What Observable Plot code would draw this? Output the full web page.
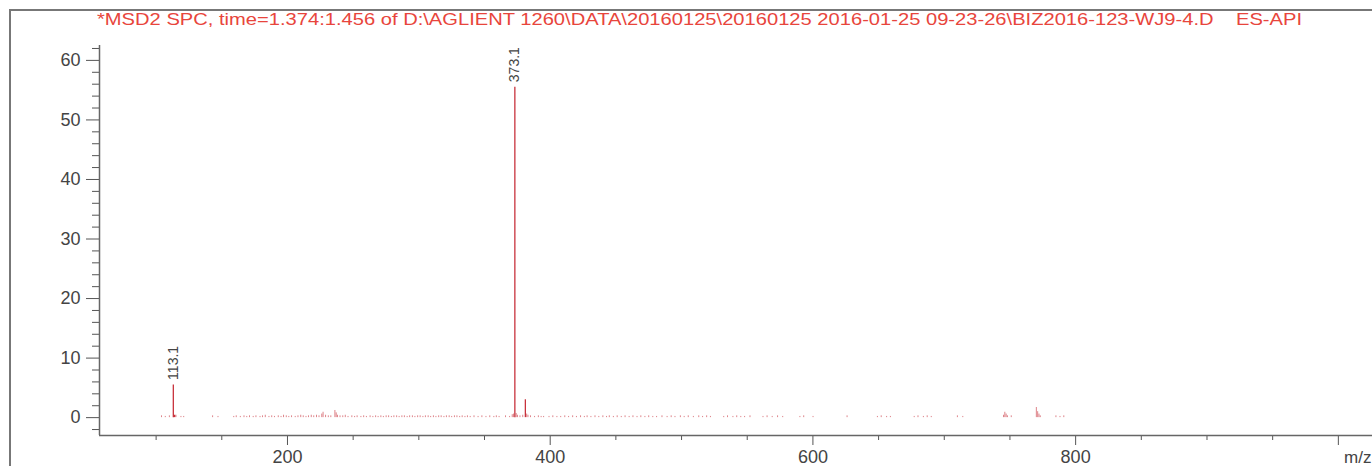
<!DOCTYPE html>
<html><head><meta charset="utf-8">
<script src="https://cdn.jsdelivr.net/npm/d3@7"></script>
<script src="https://cdn.jsdelivr.net/npm/@observablehq/plot@0.6"></script>
<style>
html,body{margin:0;padding:0;background:#fff;width:1372px;height:466px;overflow:hidden;font-family:"Liberation Sans",Arial,sans-serif;}
#frame{position:absolute;left:9px;top:9px;width:1400px;height:500px;border-top:2px solid #777;border-left:2px solid #777;}
#title{position:absolute;left:97px;top:11px;font-size:17px;line-height:17px;color:#e8453c;white-space:pre;transform-origin:0 0;}
#chart{position:absolute;left:0;top:30px;}
#xlabel{position:absolute;left:1344px;top:449px;font-size:17px;line-height:17px;color:#444;white-space:pre;}
</style>
</head><body>
<div id="frame"></div>
<div id="title">*MSD2 SPC, time=1.374:1.456 of D:\AGLIENT 1260\DATA\20160125\20160125 2016-01-25 09-23-26\BIZ2016-123-WJ9-4.D    ES-API</div>
<div id="chart"></div>
<div id="xlabel">m/z</div>
<script>
// Labelled / major peaks
const peakMz = [113.1, 114.1, 373.1, 381.1];
const peakIntensity = [5.5, 0.4, 55.5, 3.0];
const labelMz = [113.1, 373.1];
const labelIntensity = [5.5, 55.5];
const labelText = ["113.1", "373.1"];

// Small peaks and baseline noise
const noiseMz = [104.1,107.0,110.1,115.1,118.9,121.0,143.0,147.1,
159.1,161.0,164.1,166.9,169.0,171.1,173.9,176.0,179.1,181.0,183.1,185.9,188.0,190.1,193.0,195.1,197.0,199.1,201.0,203.1,205.9,208.0,210.1,212.0,214.1,216.0,218.1,220.0,222.1,224.0,
226.1,227.1,229.0,231.1,233.0,236.1,237.1,238.1,240.0,242.1,244.0,246.1,249.0,251.1,253.0,255.9,258.0,260.1,262.9,265.0,267.1,269.0,271.1,273.0,275.1,277.0,279.1,281.0,283.1,285.0,287.1,289.0,291.1,293.0,295.1,297.0,299.1,301.0,303.1,305.0,307.1,309.0,311.1,313.0,315.1,317.0,319.1,321.0,323.1,325.0,327.1,329.0,331.1,333.0,335.1,337.0,339.1,342.0,345.1,348.0,351.1,354.0,357.1,359.0,361.1,
366.0,369.1,371.1,372.1,374.1,375.1,377.0,379.1,382.1,383.1,385.0,388.1,391.0,393.1,
395.0,399.1,402.0,405.1,408.0,411.1,414.0,417.1,420.0,423.1,426.0,428.1,431.0,434.1,437.0,440.1,442.9,445.0,448.1,451.0,454.1,457.0,460.1,463.0,466.1,469.0,472.1,475.0,478.1,481.0,485.1,489.0,492.1,495.0,499.1,502.0,505.1,509.0,513.1,516.0,519.1,522.0,
532.1,535.0,539.1,542.0,545.1,548.0,552.1,562.0,565.1,569.0,573.1,577.0,590.1,593.0,600.1,626.0,649.1,652.0,656.1,659.0,677.1,680.0,684.1,687.0,690.1,710.0,714.1,
745.1,746.1,747.1,748.1,751.0,770.1,771.1,772.1,773.1,785.0,788.1,791.0];
const noiseIntensity = [0.3,0.2,0.3,0.4,0.2,0.2,0.3,0.2,
0.2,0.3,0.2,0.3,0.2,0.3,0.2,0.3,0.2,0.3,0.4,0.2,0.3,0.2,0.3,0.2,0.4,0.3,0.2,0.3,0.2,0.3,0.4,0.3,0.2,0.3,0.4,0.3,0.4,0.3,
0.6,0.9,0.4,0.3,0.3,1.2,0.8,0.4,0.3,0.3,0.4,0.2,0.3,0.2,0.3,0.2,0.3,0.2,0.3,0.2,0.3,0.2,0.3,0.2,0.3,0.3,0.2,0.3,0.3,0.2,0.3,0.3,0.2,0.3,0.3,0.2,0.3,0.3,0.2,0.3,0.3,0.2,0.3,0.2,0.3,0.3,0.2,0.3,0.3,0.2,0.3,0.3,0.2,0.3,0.2,0.3,0.2,0.3,0.2,0.3,0.2,0.3,0.2,0.3,0.2,
0.3,0.2,0.5,0.6,0.7,0.4,0.3,0.4,0.6,0.4,0.3,0.2,0.3,0.2,
0.2,0.2,0.3,0.2,0.2,0.3,0.2,0.3,0.2,0.3,0.2,0.3,0.2,0.3,0.2,0.3,0.2,0.3,0.2,0.3,0.2,0.3,0.2,0.3,0.2,0.3,0.2,0.3,0.2,0.2,0.3,0.2,0.3,0.2,0.3,0.2,0.3,0.2,0.3,0.2,0.3,0.2,
0.2,0.3,0.2,0.3,0.2,0.2,0.3,0.2,0.3,0.2,0.3,0.2,0.2,0.3,0.2,0.3,0.2,0.3,0.2,0.2,0.2,0.3,0.2,0.3,0.2,0.3,0.2,
0.4,0.9,0.6,0.3,0.3,1.7,1.0,0.6,0.3,0.3,0.2,0.3];

// Axis ticks
const yMajorTicks = [0, 10, 20, 30, 40, 50, 60];
const yMinorTicks = [-2, 2, 4, 6, 8, 12, 14, 16, 18, 22, 24, 26, 28, 32, 34, 36, 38, 42, 44, 46, 48, 52, 54, 56, 58, 62];
const xMajorTicks = [200, 400, 600, 800, 1000];
const xTickLabels = ["200", "400", "600", "800", ""];
const xMinorTicks = [100, 150, 250, 300, 350, 450, 500, 550, 650, 700, 750, 850, 900, 950];

const xDomain = [56.9, 1026];
const yDomain = [-3.0, 62.5];

const peaks = peakMz.map((mz, i) => ({mz, intensity: peakIntensity[i]}));
const noise = noiseMz.map((mz, i) => ({mz, intensity: noiseIntensity[i]}));
const labels = labelMz.map((mz, i) => ({mz, intensity: labelIntensity[i], text: labelText[i]}));

const chart = Plot.plot({
  width: 1372, height: 436,
  marginLeft: 99, marginRight: 0, marginTop: 15, marginBottom: 31,
  x: {domain: xDomain, label: null},
  y: {domain: yDomain, label: null},
  style: {fontFamily: "'Liberation Sans', Arial, sans-serif", fontSize: "18px", color: "#444", background: "transparent", overflow: "visible"},
  marks: [
    Plot.axisY(yMinorTicks, {tickSize: 7, tickFormat: () => "", stroke: "#555", label: null}),
    Plot.axisY(yMajorTicks, {tickSize: 13, tickPadding: 6, stroke: "#555", fill: "#444", fontSize: 18, label: null}),
    Plot.axisX(xMinorTicks, {tickSize: 5, tickFormat: () => "", stroke: "#555", label: null}),
    Plot.axisX(xMajorTicks, {tickSize: 10, tickPadding: 5, stroke: "#555", fill: "#444", fontSize: 18, label: null,
      tickFormat: d => xTickLabels[xMajorTicks.indexOf(d)]}),
    Plot.ruleX([xDomain[0]], {y1: yDomain[0], y2: yDomain[1], stroke: "#666", strokeWidth: 1.5}),
    Plot.ruleY([yDomain[0]], {stroke: "#666", strokeWidth: 1.5}),
    Plot.ruleX(noise, {x: "mz", y1: 0, y2: "intensity", stroke: "#c8323c", strokeOpacity: 0.6, strokeWidth: 1}),
    Plot.ruleX(peaks, {x: "mz", y1: 0, y2: "intensity", stroke: "#c8323c", strokeWidth: 1.3}),
    Plot.text(labels, {x: "mz", y: "intensity", text: "text", rotate: -90, textAnchor: "start", dy: -5, fontSize: 14, fill: "#444"})
  ]
});
document.getElementById("chart").appendChild(chart);

const t = document.getElementById("title");
const w = t.getBoundingClientRect().width;
t.style.transform = `scaleX(${1205 / w})`;
</script>
</body></html>
